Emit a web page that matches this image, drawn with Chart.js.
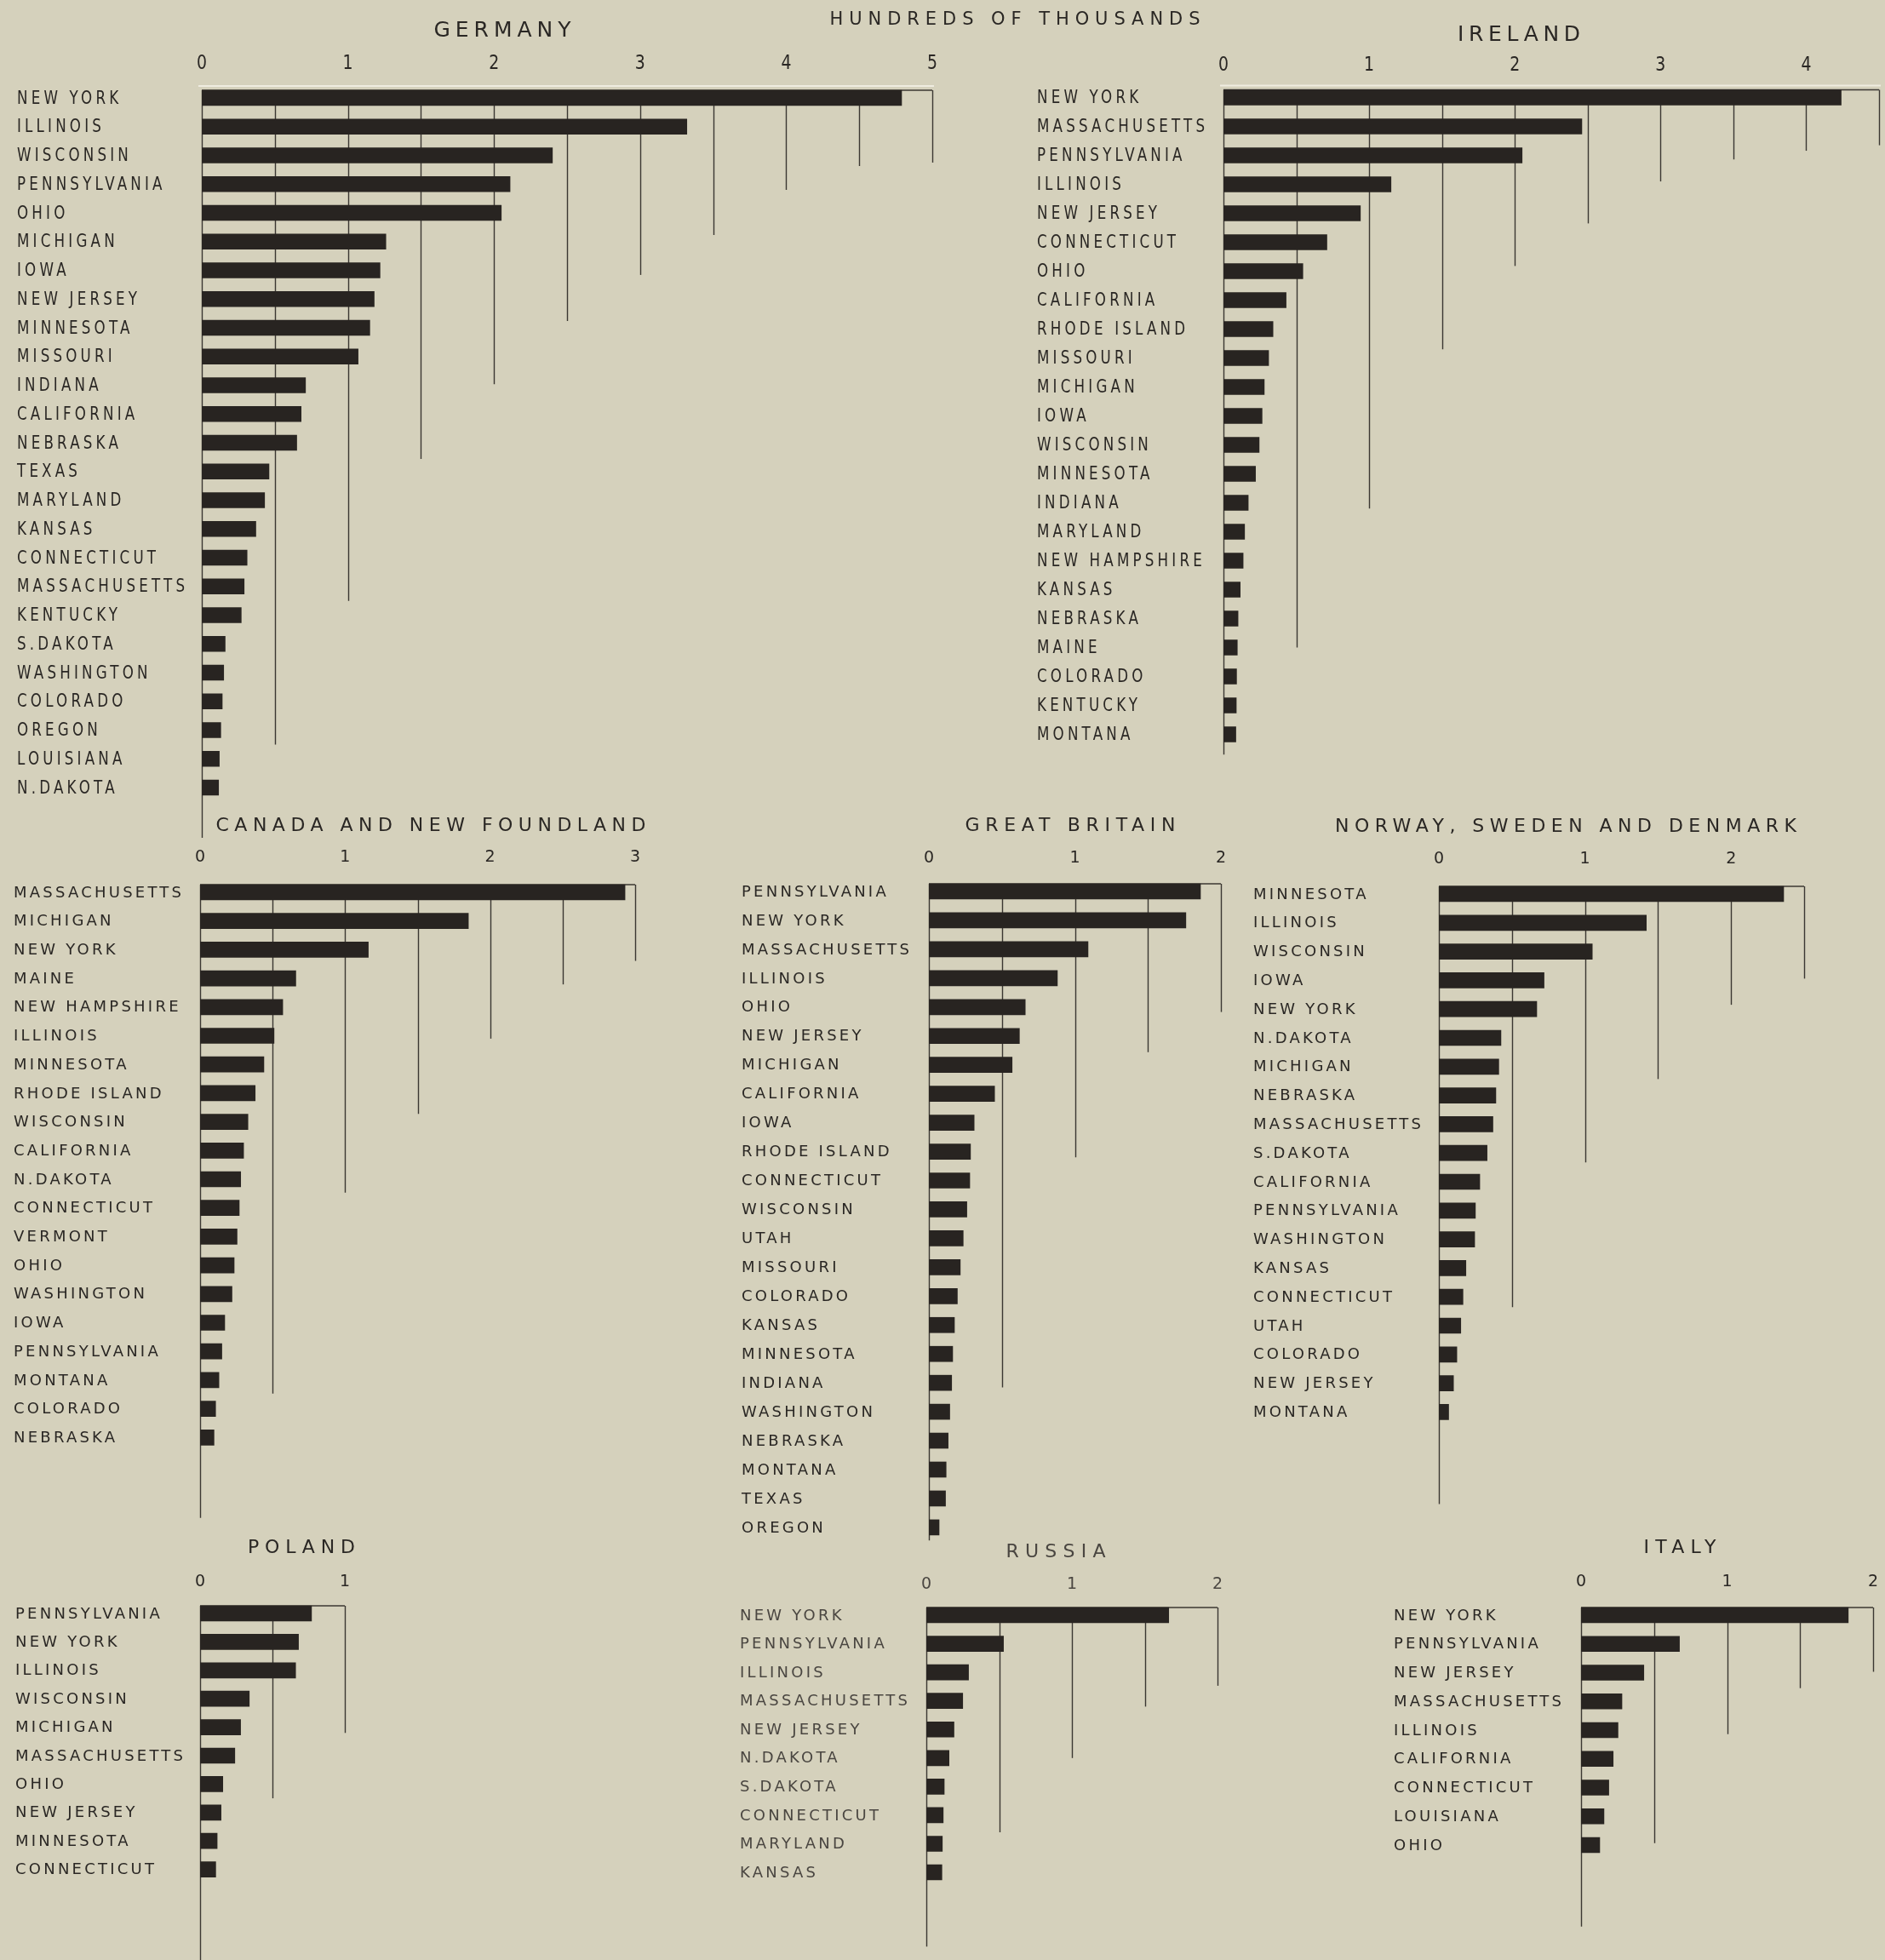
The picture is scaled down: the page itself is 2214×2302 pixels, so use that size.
<!DOCTYPE html>
<html>
<head>
<meta charset="utf-8">
<script src="https://cdn.jsdelivr.net/npm/chart.js@4/dist/chart.umd.min.js"></script>
<style>
  html, body { margin: 0; padding: 0; background: #d5d1bc; }
  #sheet { position: relative; width: 2214px; height: 2302px; overflow: hidden; background: #d5d1bc; }
  #sheet canvas { position: absolute; }
</style>
</head>
<body>
<div id="sheet"></div>
<script>
// Foreign-born population by state of residence, in hundreds of thousands.

const unitsCaption = 'HUNDREDS OF THOUSANDS';

const germanyTitle = 'GERMANY';
const germanyStates = ['NEW YORK', 'ILLINOIS', 'WISCONSIN', 'PENNSYLVANIA', 'OHIO', 'MICHIGAN', 'IOWA',
  'NEW JERSEY', 'MINNESOTA', 'MISSOURI', 'INDIANA', 'CALIFORNIA', 'NEBRASKA', 'TEXAS', 'MARYLAND',
  'KANSAS', 'CONNECTICUT', 'MASSACHUSETTS', 'KENTUCKY', 'S.DAKOTA', 'WASHINGTON', 'COLORADO',
  'OREGON', 'LOUISIANA', 'N.DAKOTA'];
const germanyValues = [4.79, 3.32, 2.40, 2.11, 2.05, 1.26, 1.22, 1.18, 1.15, 1.07, 0.71, 0.68, 0.65,
  0.46, 0.43, 0.37, 0.31, 0.29, 0.27, 0.16, 0.15, 0.14, 0.13, 0.12, 0.115];
const germanyTicks = ['0', '1', '2', '3', '4', '5'];

const irelandTitle = 'IRELAND';
const irelandStates = ['NEW YORK', 'MASSACHUSETTS', 'PENNSYLVANIA', 'ILLINOIS', 'NEW JERSEY', 'CONNECTICUT',
  'OHIO', 'CALIFORNIA', 'RHODE ISLAND', 'MISSOURI', 'MICHIGAN', 'IOWA', 'WISCONSIN', 'MINNESOTA',
  'INDIANA', 'MARYLAND', 'NEW HAMPSHIRE', 'KANSAS', 'NEBRASKA', 'MAINE', 'COLORADO', 'KENTUCKY', 'MONTANA'];
const irelandValues = [4.24, 2.46, 2.05, 1.15, 0.94, 0.71, 0.545, 0.43, 0.34, 0.31, 0.28, 0.265, 0.245,
  0.22, 0.17, 0.145, 0.135, 0.115, 0.10, 0.095, 0.09, 0.088, 0.085];
const irelandTicks = ['0', '1', '2', '3', '4'];

const canadaTitle = 'CANADA AND NEW FOUNDLAND';
const canadaStates = ['MASSACHUSETTS', 'MICHIGAN', 'NEW YORK', 'MAINE', 'NEW HAMPSHIRE', 'ILLINOIS',
  'MINNESOTA', 'RHODE ISLAND', 'WISCONSIN', 'CALIFORNIA', 'N.DAKOTA', 'CONNECTICUT', 'VERMONT', 'OHIO',
  'WASHINGTON', 'IOWA', 'PENNSYLVANIA', 'MONTANA', 'COLORADO', 'NEBRASKA'];
const canadaValues = [2.93, 1.85, 1.16, 0.66, 0.57, 0.51, 0.44, 0.38, 0.33, 0.30, 0.28, 0.27, 0.255,
  0.235, 0.22, 0.17, 0.15, 0.13, 0.107, 0.096];
const canadaTicks = ['0', '1', '2', '3'];

const britainTitle = 'GREAT BRITAIN';
const britainStates = ['PENNSYLVANIA', 'NEW YORK', 'MASSACHUSETTS', 'ILLINOIS', 'OHIO', 'NEW JERSEY',
  'MICHIGAN', 'CALIFORNIA', 'IOWA', 'RHODE ISLAND', 'CONNECTICUT', 'WISCONSIN', 'UTAH', 'MISSOURI',
  'COLORADO', 'KANSAS', 'MINNESOTA', 'INDIANA', 'WASHINGTON', 'NEBRASKA', 'MONTANA', 'TEXAS', 'OREGON'];
const britainValues = [1.86, 1.76, 1.09, 0.88, 0.66, 0.62, 0.57, 0.45, 0.31, 0.285, 0.28, 0.26, 0.235,
  0.215, 0.195, 0.175, 0.163, 0.156, 0.143, 0.132, 0.118, 0.114, 0.07];
const britainTicks = ['0', '1', '2'];

const scandinaviaTitle = 'NORWAY, SWEDEN AND DENMARK';
const scandinaviaStates = ['MINNESOTA', 'ILLINOIS', 'WISCONSIN', 'IOWA', 'NEW YORK', 'N.DAKOTA', 'MICHIGAN',
  'NEBRASKA', 'MASSACHUSETTS', 'S.DAKOTA', 'CALIFORNIA', 'PENNSYLVANIA', 'WASHINGTON', 'KANSAS',
  'CONNECTICUT', 'UTAH', 'COLORADO', 'NEW JERSEY', 'MONTANA'];
const scandinaviaValues = [2.36, 1.42, 1.05, 0.72, 0.67, 0.425, 0.41, 0.39, 0.37, 0.33, 0.28, 0.25, 0.245,
  0.185, 0.165, 0.15, 0.123, 0.10, 0.067];
const scandinaviaTicks = ['0', '1', '2'];

const polandTitle = 'POLAND';
const polandStates = ['PENNSYLVANIA', 'NEW YORK', 'ILLINOIS', 'WISCONSIN', 'MICHIGAN', 'MASSACHUSETTS',
  'OHIO', 'NEW JERSEY', 'MINNESOTA', 'CONNECTICUT'];
const polandValues = [0.77, 0.68, 0.66, 0.34, 0.28, 0.24, 0.157, 0.145, 0.118, 0.108];
const polandTicks = ['0', '1'];

const russiaTitle = 'RUSSIA';
const russiaStates = ['NEW YORK', 'PENNSYLVANIA', 'ILLINOIS', 'MASSACHUSETTS', 'NEW JERSEY', 'N.DAKOTA',
  'S.DAKOTA', 'CONNECTICUT', 'MARYLAND', 'KANSAS'];
const russiaValues = [1.665, 0.53, 0.29, 0.25, 0.19, 0.156, 0.123, 0.116, 0.11, 0.107];
const russiaTicks = ['0', '1', '2'];

const italyTitle = 'ITALY';
const italyStates = ['NEW YORK', 'PENNSYLVANIA', 'NEW JERSEY', 'MASSACHUSETTS', 'ILLINOIS', 'CALIFORNIA',
  'CONNECTICUT', 'LOUISIANA', 'OHIO'];
const italyValues = [1.83, 0.674, 0.43, 0.28, 0.253, 0.22, 0.19, 0.157, 0.128];
const italyTicks = ['0', '1', '2'];

// ---- drawing styles ----
const INK = '#282421';
const TEXT = '#2a2724';
const RULE = '#3b3732';
const BAR = 18;
const FACE = '"DejaVu Sans", "Liberation Sans", sans-serif';
// narrow: the condensed lettering of the two upper panels; wide: the spaced capitals elsewhere
const STYLES = {
  narrow: { label: '22px ' + FACE, tick: '23px ' + FACE, title: '25px ' + FACE, sx: 0.76, tickSx: 0.82 },
  wide:   { label: '18px ' + FACE, tick: '19px ' + FACE, title: '22px ' + FACE, sx: 1.0, tickSx: 1.0 }
};
const LABEL_SAMPLE = 'MASSACHUSETTS';
const LABEL_SAMPLE_WIDTH = 197;

// Panel frames in page pixels. ruleDepth: how far down (in rows) each half-step
// rule reaches, starting with the zero line.
const panels = [
  { title: germanyTitle, states: germanyStates, values: germanyValues, ticks: germanyTicks, max: 5,
    style: 'narrow', box: [0, 0, 1430, 995], zeroX: 237, maxX: 1095, row0: 115, pitch: 33.75,
    labelX: 20, tickY: 75, titleAt: [590, 36], titleWidth: 161, highlight: true,
    caption: { text: unitsCaption, at: [1192, 24], width: 435 },
    ruleDepth: [25.75, 22.5, 17.5, 12.56, 9.96, 7.76, 6.16, 4.77, 3.2, 2.37, 2.25] },
  { title: irelandTitle, states: irelandStates, values: irelandValues, ticks: irelandTicks, max: 4.5,
    style: 'narrow', box: [1200, 0, 2214, 900], zeroX: 1437, maxX: 2207, row0: 114.5, pitch: 34.0,
    labelX: 1218, tickY: 77, titleAt: [1784, 41], titleWidth: 144, highlight: true,
    ruleDepth: [22.7, 19.0, 14.2, 8.7, 5.82, 4.35, 2.9, 2.14, 1.84, 1.65] },
  { title: canadaTitle, states: canadaStates, values: canadaValues, ticks: canadaTicks, max: 3,
    style: 'wide', box: [0, 940, 800, 1790], zeroX: 235, maxX: 746, row0: 1048, pitch: 33.7,
    labelX: 16, tickY: 1007, titleAt: [506, 970], titleWidth: 505,
    ruleDepth: [21.8, 17.47, 10.47, 7.72, 5.1, 3.21, 2.39] },
  { title: britainTitle, states: britainStates, values: britainValues, ticks: britainTicks, max: 2,
    style: 'wide', box: [850, 940, 1460, 1815], zeroX: 1091, maxX: 1434, row0: 1047, pitch: 33.95,
    labelX: 871, tickY: 1008, titleAt: [1257, 970], titleWidth: 247,
    ruleDepth: [22.45, 17.16, 9.2, 5.56, 4.17] },
  { title: scandinaviaTitle, states: scandinaviaStates, values: scandinaviaValues, ticks: scandinaviaTicks, max: 2.5,
    style: 'wide', box: [1460, 940, 2214, 1775], zeroX: 1690, maxX: 2119, row0: 1050, pitch: 33.8,
    labelX: 1472, tickY: 1009, titleAt: [1839, 971], titleWidth: 542,
    ruleDepth: [21.2, 14.36, 9.33, 6.43, 3.85, 2.94] },
  { title: polandTitle, states: polandStates, values: polandValues, ticks: polandTicks, max: 1,
    style: 'wide', box: [0, 1790, 460, 2302], zeroX: 235, maxX: 405, row0: 1895, pitch: 33.4,
    labelX: 18, tickY: 1858, titleAt: [354, 1818], titleWidth: 126,
    ruleDepth: [12.4, 6.5, 4.2] },
  { title: russiaTitle, states: russiaStates, values: russiaValues, ticks: russiaTicks, max: 2,
    style: 'wide', box: [850, 1795, 1470, 2302], zeroX: 1088, maxX: 1430, row0: 1897, pitch: 33.56,
    labelX: 869, tickY: 1861, titleAt: [1240, 1823], titleWidth: 117, textColor: '#4a4641',
    ruleDepth: [11.6, 7.6, 5.0, 3.2, 2.47] },
  { title: italyTitle, states: italyStates, values: italyValues, ticks: italyTicks, max: 2,
    style: 'wide', box: [1600, 1790, 2214, 2302], zeroX: 1857, maxX: 2200, row0: 1897, pitch: 33.75,
    labelX: 1637, tickY: 1858, titleAt: [1973, 1818], titleWidth: 85,
    ruleDepth: [10.84, 7.93, 4.14, 2.54, 1.97] }
];

// Letter spacing (in unscaled font units) that makes `sample` span `width` pixels.
function spacingFor(ctx, sample, font, sx, width) {
  ctx.font = font;
  ctx.letterSpacing = '0px';
  const natural = ctx.measureText(sample).width;
  const n = [...sample].length;
  return n > 1 ? (width / sx - natural) / (n - 1) : 0;
}

// Draw text with horizontal squeeze sx and given letter spacing; x is the left edge.
function drawSpaced(ctx, text, x, y, font, sx, spacing) {
  ctx.save();
  ctx.font = font;
  ctx.letterSpacing = spacing.toFixed(2) + 'px';
  ctx.textAlign = 'left';
  ctx.translate(x, y);
  ctx.scale(sx, 1);
  ctx.fillText(text, 0, 0);
  ctx.restore();
}

function drawCentered(ctx, text, cx, cy, font, sx, width) {
  const sp = spacingFor(ctx, text, font, sx, width);
  drawSpaced(ctx, text, cx - width / 2, cy, font, sx, sp);
}

function sheetPlugin(p) {
  const ox = p.box[0], oy = p.box[1];
  const st = STYLES[p.style];
  return {
    id: 'sheet',
    beforeDatasetsDraw(chart) {
      const { ctx } = chart;
      const xs = chart.scales.x, ys = chart.scales.y;
      const topY = ys.getPixelForValue(0) - BAR / 2;
      ctx.save();
      if (p.highlight) {
        ctx.strokeStyle = '#efece0';
        ctx.lineWidth = 2;
        ctx.beginPath();
        ctx.moveTo(xs.getPixelForValue(0) - 4, topY - 5);
        ctx.lineTo(xs.getPixelForValue(p.max) + 2, topY - 5);
        ctx.stroke();
      }
      ctx.strokeStyle = RULE;
      ctx.lineWidth = 1.4;
      ctx.beginPath();
      ctx.moveTo(xs.getPixelForValue(0), topY);
      ctx.lineTo(xs.getPixelForValue(p.max), topY);
      ctx.stroke();
      p.ruleDepth.forEach((depth, k) => {
        const px = Math.round(xs.getPixelForValue(k * 0.5)) + 0.5;
        ctx.beginPath();
        ctx.moveTo(px, topY);
        ctx.lineTo(px, ys.getPixelForValue(depth));
        ctx.stroke();
      });
      ctx.restore();
    },
    afterDraw(chart) {
      const { ctx } = chart;
      const xs = chart.scales.x, ys = chart.scales.y;
      ctx.save();
      ctx.fillStyle = p.textColor || TEXT;
      ctx.textBaseline = 'middle';

      // state names, evenly letter-spaced per panel
      const sp = spacingFor(ctx, LABEL_SAMPLE, st.label, st.sx, LABEL_SAMPLE_WIDTH);
      p.states.forEach((name, i) => {
        drawSpaced(ctx, name, p.labelX - ox, ys.getPixelForValue(i) + 1, st.label, st.sx, sp);
      });

      // scale figures
      p.ticks.forEach((t, i) => {
        ctx.font = st.tick;
        ctx.letterSpacing = '0px';
        const w = ctx.measureText(t).width * st.tickSx;
        drawSpaced(ctx, t, xs.getPixelForValue(i) - w / 2, p.tickY - oy, st.tick, st.tickSx, 0);
      });

      // panel heading
      drawCentered(ctx, p.title, p.titleAt[0] - ox, p.titleAt[1] - oy, st.title, 1, p.titleWidth);
      if (p.caption) {
        drawCentered(ctx, p.caption.text, p.caption.at[0] - ox, p.caption.at[1] - oy,
          '21px ' + FACE, 1, p.caption.width);
      }
      ctx.restore();
    }
  };
}

const sheet = document.getElementById('sheet');
panels.forEach(p => {
  const [l, t, r, b] = p.box;
  const w = r - l, h = b - t;
  const canvas = document.createElement('canvas');
  canvas.width = w; canvas.height = h;
  canvas.style.left = l + 'px'; canvas.style.top = t + 'px';
  canvas.style.width = w + 'px'; canvas.style.height = h + 'px';
  sheet.appendChild(canvas);
  const n = p.states.length;
  new Chart(canvas, {
    type: 'bar',
    data: {
      labels: p.states,
      datasets: [{
        data: p.values,
        backgroundColor: INK,
        borderWidth: 0,
        barThickness: BAR
      }]
    },
    options: {
      indexAxis: 'y',
      responsive: false,
      animation: false,
      devicePixelRatio: 1,
      layout: {
        padding: {
          left: p.zeroX - l,
          right: r - p.maxX,
          top: p.row0 - p.pitch / 2 - t,
          bottom: b - (p.row0 + (n - 0.5) * p.pitch)
        }
      },
      scales: {
        x: { type: 'linear', min: 0, max: p.max, display: false },
        y: { type: 'category', display: false }
      },
      plugins: { legend: { display: false }, tooltip: { enabled: false }, title: { display: false } }
    },
    plugins: [sheetPlugin(p)]
  });
});
</script>
</body>
</html>
